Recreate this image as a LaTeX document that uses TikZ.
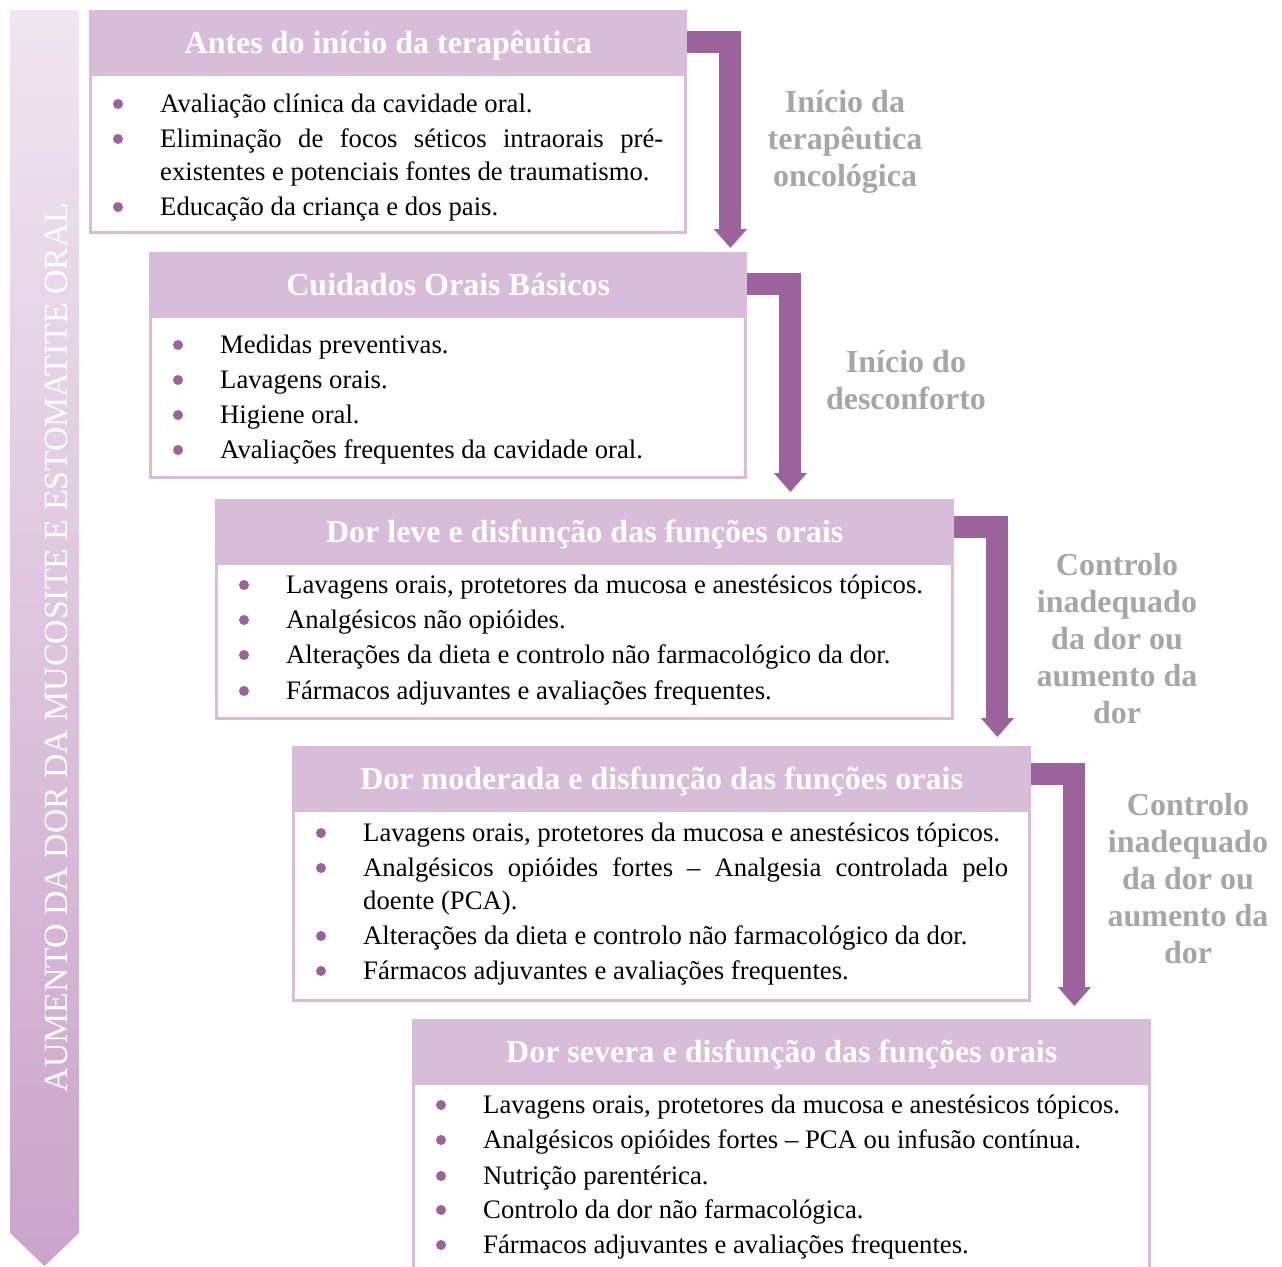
\documentclass[tikz,border=0pt]{standalone}
\usepackage{fontspec}
\setmainfont{Liberation Serif}
\usetikzlibrary{positioning, arrows.meta, calc}
\definecolor{lilac}{RGB}{216, 189, 216}
\definecolor{plum}{RGB}{155, 98, 155}
\definecolor{greylabel}{RGB}{166, 166, 166}
\definecolor{fadetop}{RGB}{239, 230, 240}
\definecolor{fadebottom}{RGB}{203, 164, 203}

\tikzset{
    header/.style={fill=lilac, anchor=north west, inner sep=0pt, text=white, text height=24pt, text depth=2pt, font=\bfseries\fontsize{32}{37}\selectfont},
    panel/.style={draw=lilac, line width=3pt, fill=white, inner sep=0pt},
    item/.style={anchor=base west, inner sep=0pt, font=\fontsize{26.7}{35}\selectfont},
    dot/.style={circle, fill=plum, inner sep=0pt, minimum size=10pt},
    stepline/.style={draw=plum, line width=22pt, -{Triangle[width=32pt, length=19pt]}},
    cue/.style={text=greylabel, align=center, font=\bfseries\fontsize{32}{37}\selectfont},
}

\begin{document}
\begin{tikzpicture}[x=1pt, y=-1pt]
    \useasboundingbox (0,0) rectangle (1282,1266);
    \clip (0,0) rectangle (1282,1266);

    % Side arrow
    \shade[top color=fadetop, bottom color=fadebottom] (10,10) -- (79,10) -- (79,1233) -- (44.5,1266) -- (10,1233) -- cycle;
    \node[rotate=90, anchor=base, inner sep=0pt, text=white, font=\fontsize{33.8}{34}\selectfont] (axis) at (67,647.5) {AUMENTO DA DOR DA MUCOSITE E ESTOMATITE ORAL};

    % Stage 1
    \begin{scope}[shift={(89,10)}]
        \node[header, minimum width=598pt, minimum height=64pt] (h1) at (0,0) {Antes do início da terapêutica};
        \node[panel, minimum width=595pt, minimum height=158pt, below=-1.5pt of h1] (p1) {};
        \foreach \y/\txt [count=\i] in {102/{Avaliação clínica da cavidade oral.}, 137/{\makebox[503pt][s]{Eliminação de focos séticos intraorais pré-}}, 205/{Educação da criança e dos pais.}} {
            \node[dot] (d1-\i) at (29,\y-8) {};
            \node[item] (l1-\i) at (71,\y) {\txt};
        }
        \node[item] (l1-c) at (71,170) {existentes e potenciais fontes de traumatismo.};
    \end{scope}

    % Stage 2
    \begin{scope}[shift={(149,252)}]
        \node[header, minimum width=598pt, minimum height=64pt] (h2) at (0,0) {Cuidados Orais Básicos};
        \node[panel, minimum width=595pt, minimum height=161pt, below=-1.5pt of h2] (p2) {};
        \foreach \y/\txt [count=\i] in {101/{Medidas preventivas.}, 136/{Lavagens orais.}, 171/{Higiene oral.}, 206/{Avaliações frequentes da cavidade oral.}} {
            \node[dot] (d2-\i) at (29,\y-8) {};
            \node[item] (l2-\i) at (71,\y) {\txt};
        }
    \end{scope}

    % Stage 3
    \begin{scope}[shift={(215,499)}]
        \node[header, minimum width=739pt, minimum height=64pt] (h3) at (0,0) {Dor leve e disfunção das funções orais};
        \node[panel, minimum width=736pt, minimum height=155pt, below=-1.5pt of h3] (p3) {};
        \foreach \y/\txt [count=\i] in {94/{Lavagens orais, protetores da mucosa e anestésicos tópicos.}, 129/{Analgésicos não opióides.}, 164/{Alterações da dieta e controlo não farmacológico da dor.}, 200/{Fármacos adjuvantes e avaliações frequentes.}} {
            \node[dot] (d3-\i) at (29,\y-8) {};
            \node[item] (l3-\i) at (71,\y) {\txt};
        }
    \end{scope}

    % Stage 4
    \begin{scope}[shift={(292,746)}]
        \node[header, minimum width=739pt, minimum height=64pt] (h4) at (0,0) {Dor moderada e disfunção das funções orais};
        \node[panel, minimum width=736pt, minimum height=190pt, below=-1.5pt of h4] (p4) {};
        \foreach \y/\txt [count=\i] in {95/{Lavagens orais, protetores da mucosa e anestésicos tópicos.}, 130/{\makebox[645pt][s]{Analgésicos opióides fortes -- Analgesia controlada pelo}}, 198/{Alterações da dieta e controlo não farmacológico da dor.}, 233/{Fármacos adjuvantes e avaliações frequentes.}} {
            \node[dot] (d4-\i) at (29,\y-8) {};
            \node[item] (l4-\i) at (71,\y) {\txt};
        }
        \node[item] (l4-c) at (71,163) {doente (PCA).};
    \end{scope}

    % Stage 5
    \begin{scope}[shift={(412,1019)}]
        \node[header, minimum width=739pt, minimum height=64pt] (h5) at (0,0) {Dor severa e disfunção das funções orais};
        \node[panel, minimum width=736pt, minimum height=260pt, below=-1.5pt of h5] (p5) {};
        \foreach \y/\txt [count=\i] in {94/{Lavagens orais, protetores da mucosa e anestésicos tópicos.}, 129/{Analgésicos opióides fortes -- PCA ou infusão contínua.}, 165/{Nutrição parentérica.}, 199/{Controlo da dor não farmacológica.}, 234/{Fármacos adjuvantes e avaliações frequentes.}} {
            \node[dot] (d5-\i) at (29,\y-8) {};
            \node[item] (l5-\i) at (71,\y) {\txt};
        }
    \end{scope}

    % Step arrows
    \draw[stepline] (h1.east) -| ($(h1.east |- h2.north)+(43,-4)$);
    \draw[stepline] (h2.east) -| ($(h2.east |- h3.north)+(43,-7)$);
    \draw[stepline] ($(h3.east)+(0,-4)$) -| ($(h3.east |- h4.north)+(43,-9)$);
    \draw[stepline] ($(h4.east)+(0,-4)$) -| ($(h4.east |- h5.north)+(43,-13)$);

    % Transition labels
    \node[cue] (cue1) at (845,142) {Início da\\terapêutica\\oncológica};
    \node[cue] (cue2) at (906,380) {Início do\\desconforto};
    \node[cue] (cue3) at (1117,639) {Controlo\\inadequado\\da dor ou\\aumento da\\dor};
    \node[cue] (cue4) at (1188,879) {Controlo\\inadequado\\da dor ou\\aumento da\\dor};
\end{tikzpicture}
\end{document}
